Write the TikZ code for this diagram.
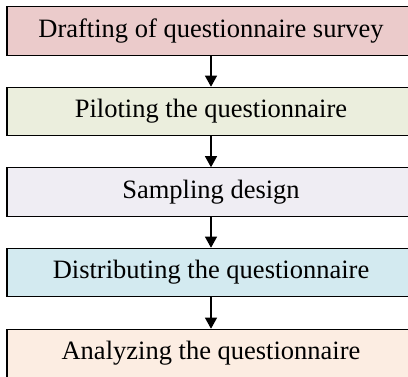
\documentclass[tikz,border=0pt]{standalone}
\usepackage{fontspec}
\setmainfont{Liberation Serif}
\usepackage{tikz}
\usetikzlibrary{arrows.meta}
\definecolor{draftcol}{HTML}{EBCBCB}
\definecolor{pilotcol}{HTML}{EBEEDD}
\definecolor{samplecol}{HTML}{EFEDF3}
\definecolor{distcol}{HTML}{D3EAF0}
\definecolor{analcol}{HTML}{FCEDE2}
\tikzstyle{stepbox}=[rectangle,draw=black,line width=1.1pt,
                     minimum width=408pt,minimum height=48.5pt,
                     inner sep=0pt,font=\fontsize{26.5}{30}\selectfont]
\tikzstyle{flow}=[line width=1.1pt,-{Triangle[length=11pt,width=12pt]}]

\begin{document}
\begin{tikzpicture}[x=1pt,y=-1pt]
    \useasboundingbox (0,0) rectangle (408,376);
    \newcommand{\cx}{211}
    \node (s1) at (\cx, 31.0) [stepbox,fill=draftcol]{Drafting of questionnaire survey};
    \node (s2) at (\cx,111.5) [stepbox,fill=pilotcol]{Piloting the questionnaire};
    \node (s3) at (\cx,192.0) [stepbox,fill=samplecol]{Sampling design};
    \node (s4) at (\cx,272.5) [stepbox,fill=distcol]{Distributing the questionnaire};
    \node (s5) at (\cx,353.5) [stepbox,fill=analcol]{Analyzing the questionnaire};
    \draw[flow] (s1) -- (s2);
    \draw[flow] (s2) -- (s3);
    \draw[flow] (s3) -- (s4);
    \draw[flow] (s4) -- (s5);
  \end{tikzpicture}
\end{document}
